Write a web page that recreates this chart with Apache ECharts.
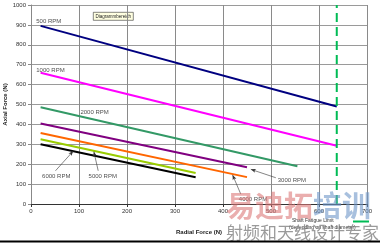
<!DOCTYPE html>
<html><head><meta charset="utf-8">
<script src="https://cdn.jsdelivr.net/npm/echarts@6/dist/echarts.min.js"></script>
<style>html,body{margin:0;padding:0;background:#fff}#c{width:380px;height:243px}</style>
</head><body><div id="c"></div>
<script>
// Data: [radial force, axial force] endpoints per speed
const rpm500  = [[20, 895], [637, 490]];
const rpm1000 = [[20, 660], [637, 293]];
const rpm2000 = [[20, 486], [555, 190]];
const rpm3000 = [[20, 405], [450, 185]];
const rpm4000 = [[20, 357], [450, 135]];
const rpm5000 = [[20, 325], [343, 156]];
const rpm6000 = [[20, 300], [343, 134]];
const fatigueLimit = [[637, 0], [637, 1000]];
const seriesNames = ['500 RPM','1000 RPM','2000 RPM','3000 RPM','4000 RPM','5000 RPM','6000 RPM'];
const seriesColors = ['#000080','#ff00ff','#339966','#800080','#ff6600','#99cc00','#000000'];
const seriesData = [rpm500, rpm1000, rpm2000, rpm3000, rpm4000, rpm5000, rpm6000];
// label anchors (data coordinates) and leader arrows
const labelPos = [[11, 920], [11, 673], [103, 462], [514, 121], [433, 25], [120, 141], [23, 141]];
const arrows = [
  [[510, 132], [458, 174]],
  [[437, 50], [420, 146]],
  [[140, 167], [131, 263]],
  [[51, 167], [88, 266]]
];
const xTicks = [0,100,200,300,400,500,600,700];
const yTicks = [0,100,200,300,400,500,600,700,800,900,1000];

const FONT = 'Liberation Sans, Arial, sans-serif';
const chart = echarts.init(document.getElementById('c'), null, {renderer:'canvas'});
const series = seriesData.map((d, i) => ({
  type:'line', name: seriesNames[i], data: d, symbol:'none', silent:true,
  lineStyle:{color: seriesColors[i], width: 2}, z: 3
}));
series.push({
  type:'line', name:'Shaft Fatigue Limit', data: fatigueLimit, symbol:'none',
  lineStyle:{color:'#00bb55', width:2, type:[9,5]}, z: 4
});
series.push({
  type:'scatter', symbolSize:0, silent:true, z:5,
  data: labelPos.map((p, i) => ({value:p, name: seriesNames[i]})),
  label:{show:true, position:'right', distance:0, formatter:'{b}', fontSize:6, fontFamily:FONT, color:'#222'},
  markLine:{
    silent:true, symbol:['none','arrow'], symbolSize:[3,5],
    lineStyle:{color:'#333', width:0.6, type:'solid'}, label:{show:false},
    data: arrows.map(a => [{coord:a[0]}, {coord:a[1]}])
  }
});

chart.setOption({
  animation:false,
  backgroundColor:'#fff',
  grid:{left:31, right:13, top:5, bottom:39, containLabel:false, outerBoundsMode:'none'},
  xAxis:{
    type:'value', min:0, max:700, interval:100,
    name:'Radial Force (N)', nameLocation:'middle', nameGap:25, nameMoveOverlap:false,
    nameTextStyle:{fontSize:6, fontWeight:'bold', fontFamily:FONT, color:'#222'},
    axisLine:{show:true, lineStyle:{color:'#333', width:1}},
    axisTick:{show:true, length:3, lineStyle:{color:'#333'}},
    axisLabel:{fontSize:6, fontFamily:FONT, color:'#333', margin:4, formatter: v => xTicks.includes(v) ? String(v) : ''},
    splitLine:{show:true, lineStyle:{color:'#8a8a8a', width:1}}
  },
  yAxis:{
    type:'value', min:0, max:1000, interval:100,
    name:'Axial Force (N)', nameLocation:'middle', nameGap:23, nameMoveOverlap:false,
    nameTextStyle:{fontSize:6, fontWeight:'bold', fontFamily:FONT, color:'#222'},
    axisLine:{show:true, lineStyle:{color:'#888', width:1}},
    axisTick:{show:true, length:3, lineStyle:{color:'#888'}},
    axisLabel:{fontSize:6, fontFamily:FONT, color:'#333', margin:5, formatter: v => yTicks.includes(v) ? String(v) : ''},
    splitLine:{show:true, lineStyle:{color:'#9a9a9a', width:1}}
  },
  series: series,
  graphic:[
    {type:'group', left:93, top:12, z:10, children:[
      {type:'rect', shape:{x:0,y:0,width:40,height:8}, style:{fill:'#ffffe1', stroke:'#333', lineWidth:0.6}},
      {type:'text', x:20, y:4, style:{text:'Diagrammbereich', fontSize:4.5, fontFamily:FONT, fill:'#222', align:'center', verticalAlign:'middle'}}
    ]},
    {type:'text', x:292, y:221, z:10, style:{text:'Shaft Fatigue Limit', fontSize:5, fontFamily:FONT, fill:'#333', verticalAlign:'middle'}},
    {type:'text', x:289, y:228, z:10, style:{text:'(depending on shaft diameter)', fontSize:5, fontFamily:FONT, fill:'#333', verticalAlign:'middle'}},
    {type:'line', z:10, shape:{x1:353, y1:221.5, x2:369, y2:221.5}, style:{stroke:'#00bb55', lineWidth:2}},
    {type:'text', x:226, y:206, z:20, style:{text:'易迪拓', fontSize:29, fontWeight:'bold', fontFamily:'Noto Sans CJK SC', fill:'rgba(220,120,120,0.6)', verticalAlign:'middle'}},
    {type:'text', x:313, y:206, z:20, style:{text:'培训', fontSize:29, fontWeight:'bold', fontFamily:'Noto Sans CJK SC', fill:'rgba(110,150,200,0.6)', verticalAlign:'middle'}},
    {type:'text', x:226, y:233, z:20, style:{text:'射频和天线设计专家', fontSize:17, fontFamily:'Noto Sans CJK SC', fill:'rgba(120,120,120,0.75)', verticalAlign:'middle'}},
    {type:'line', z:20, shape:{x1:0, y1:241.5, x2:380, y2:241.5}, style:{stroke:'#000', lineWidth:2}}
  ]
});
</script></body></html>
